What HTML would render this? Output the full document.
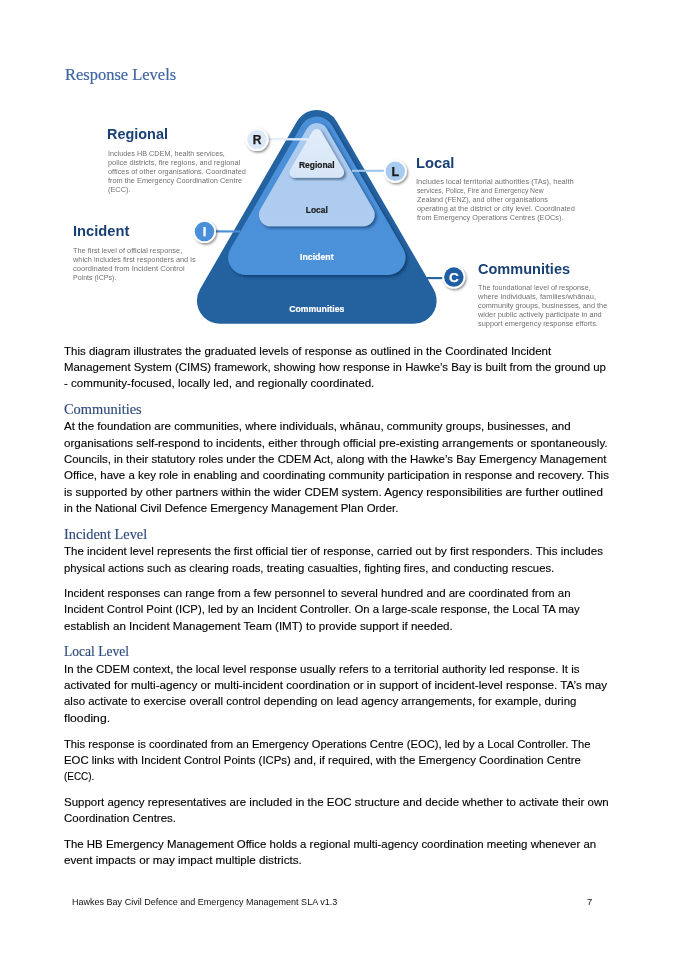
<!DOCTYPE html>
<html lang="en"><head><meta charset="utf-8"><title>Response Levels</title>
<style>
html,body{margin:0;padding:0;background:#fff;}
body{width:675px;height:955px;position:relative;overflow:hidden;}
.l{position:absolute;white-space:pre;line-height:1;transform-origin:0 0;margin:0;}
.t{font-family:"Liberation Serif", serif;font-size:15.8px;color:#4066a4;font-weight:400;-webkit-text-stroke:0.2px #4066a4;}
.h{font-family:"Liberation Serif", serif;font-size:13.6px;color:#2f4b7c;font-weight:400;-webkit-text-stroke:0.15px #2f4b7c;}
.b{font-family:"Liberation Sans", sans-serif;font-size:10.8px;color:#000;font-weight:400;-webkit-text-stroke:0.12px #000;}
.f{font-family:"Liberation Sans", sans-serif;font-size:9.0px;color:#111;font-weight:400;}
.dh{font-family:"Liberation Sans", sans-serif;font-size:14.0px;color:#194075;font-weight:700;}
.dd{font-family:"Liberation Sans", sans-serif;font-size:7.4px;color:#707070;font-weight:400;}
</style></head>
<body>
<svg width="675" height="955" viewBox="0 0 675 955" style="position:absolute;left:0;top:0;will-change:transform">
<defs>
<linearGradient id="g0" gradientUnits="userSpaceOnUse" x1="0" y1="110" x2="0" y2="324"><stop offset="0" stop-color="#2463a2"/><stop offset="1" stop-color="#23619f"/></linearGradient>
<linearGradient id="g1" gradientUnits="userSpaceOnUse" x1="0" y1="116" x2="0" y2="275"><stop offset="0" stop-color="#4a8fd8"/><stop offset="1" stop-color="#4c92da"/></linearGradient>
<linearGradient id="g2" gradientUnits="userSpaceOnUse" x1="0" y1="123" x2="0" y2="226"><stop offset="0" stop-color="#a9c9ee"/><stop offset="1" stop-color="#afcdef"/></linearGradient>
<linearGradient id="g3" gradientUnits="userSpaceOnUse" x1="0" y1="129" x2="0" y2="178"><stop offset="0" stop-color="#e2edf9"/><stop offset="1" stop-color="#d6e5f7"/></linearGradient>
<filter id="sh" x="-20%" y="-20%" width="140%" height="140%"><feDropShadow dx="1.9" dy="1.9" stdDeviation="1.8" flood-color="#06224a" flood-opacity="0.55"/></filter>
<filter id="bs" x="-40%" y="-40%" width="180%" height="180%"><feDropShadow dx="1.2" dy="1.5" stdDeviation="1.0" flood-color="#000" flood-opacity="0.45"/></filter>
</defs>
<path d="M316.80 133.00 L413.68 300.80 L219.92 300.80 Z" fill="url(#g0)" stroke="url(#g0)" stroke-width="46.00" stroke-linejoin="round"/>
<path d="M316.80 134.10 L387.99 257.40 L245.61 257.40 Z" fill="url(#g1)" stroke="url(#g1)" stroke-width="35.00" stroke-linejoin="round" filter="url(#sh)"/>
<path d="M316.80 134.50 L363.16 214.80 L270.44 214.80 Z" fill="url(#g2)" stroke="url(#g2)" stroke-width="23.00" stroke-linejoin="round" filter="url(#sh)"/>
<path d="M316.80 134.30 L338.80 172.40 L294.80 172.40 Z" fill="url(#g3)" stroke="url(#g3)" stroke-width="10.60" stroke-linejoin="round" filter="url(#sh)"/>
<line x1="268" y1="139.2" x2="308" y2="139.3" stroke="#e3eefa" stroke-width="2.3"/>
<line x1="215" y1="231.4" x2="240" y2="231.5" stroke="#4a8fd8" stroke-width="2.1"/>
<line x1="352" y1="170.8" x2="384" y2="170.8" stroke="#9fc6ee" stroke-width="2.1"/>
<line x1="426" y1="278.1" x2="442.5" y2="278.1" stroke="#22609e" stroke-width="2.1"/>
<circle cx="257.0" cy="139.6" r="11.5" fill="#fff" filter="url(#bs)"/>
<circle cx="257.0" cy="139.6" r="9.75" fill="#dbe8f8"/>
<text x="257.0" y="143.9" text-anchor="middle" font-family="Liberation Sans, sans-serif" font-weight="700" font-size="12" fill="#1a1a1a" stroke="#1a1a1a" stroke-width="0.25">R</text>
<circle cx="204.5" cy="231.6" r="11.5" fill="#fff" filter="url(#bs)"/>
<circle cx="204.5" cy="231.6" r="9.75" fill="#4a90d9"/>
<text x="204.5" y="236.2" text-anchor="middle" font-family="Liberation Sans, sans-serif" font-weight="700" font-size="13" fill="#ffffff" stroke="#ffffff" stroke-width="0.25">I</text>
<circle cx="395.3" cy="171.3" r="11.5" fill="#fff" filter="url(#bs)"/>
<circle cx="395.3" cy="171.3" r="9.75" fill="#a9cbf0"/>
<text x="395.3" y="175.8" text-anchor="middle" font-family="Liberation Sans, sans-serif" font-weight="700" font-size="12.6" fill="#1a1a1a" stroke="#1a1a1a" stroke-width="0.25">L</text>
<circle cx="453.8" cy="277.1" r="11.5" fill="#fff" filter="url(#bs)"/>
<circle cx="453.8" cy="277.1" r="9.75" fill="#1f5ea5"/>
<text x="453.8" y="282.0" text-anchor="middle" font-family="Liberation Sans, sans-serif" font-weight="700" font-size="13.6" fill="#ffffff" stroke="#ffffff" stroke-width="0.25">C</text>
<text x="316.8" y="168.0" text-anchor="middle" textLength="35.6" lengthAdjust="spacingAndGlyphs" font-family="Liberation Sans, sans-serif" font-weight="700" font-size="8.4" fill="#1a1a1a" stroke="#1a1a1a" stroke-width="0.2">Regional</text>
<text x="316.8" y="213.2" text-anchor="middle" textLength="21.9" lengthAdjust="spacingAndGlyphs" font-family="Liberation Sans, sans-serif" font-weight="700" font-size="8.4" fill="#1a1a1a" stroke="#1a1a1a" stroke-width="0.2">Local</text>
<text x="316.8" y="260.4" text-anchor="middle" textLength="33.5" lengthAdjust="spacingAndGlyphs" font-family="Liberation Sans, sans-serif" font-weight="700" font-size="8.4" fill="#ffffff" stroke="#ffffff" stroke-width="0.2">Incident</text>
<text x="316.8" y="311.6" text-anchor="middle" textLength="55.2" lengthAdjust="spacingAndGlyphs" font-family="Liberation Sans, sans-serif" font-weight="700" font-size="8.4" fill="#ffffff" stroke="#ffffff" stroke-width="0.2">Communities</text>
</svg>
<div class="l t" style="left:64.68px;top:66.70px;transform:scaleX(1.0423);">Response Levels</div>
<div class="l b" style="left:63.80px;top:345.50px;transform:scaleX(1.0638);">This diagram illustrates the graduated levels of response as outlined in the Coordinated Incident</div>
<div class="l b" style="left:63.80px;top:361.80px;transform:scaleX(1.0567);">Management System (CIMS) framework, showing how response in Hawke’s Bay is built from the ground up</div>
<div class="l b" style="left:63.80px;top:378.10px;transform:scaleX(1.0727);">- community-focused, locally led, and regionally coordinated.</div>
<div class="l b" style="left:63.80px;top:421.40px;transform:scaleX(1.0672);">At the foundation are communities, where individuals, whānau, community groups, businesses, and</div>
<div class="l b" style="left:63.80px;top:437.80px;transform:scaleX(1.0739);">organisations self-respond to incidents, either through official pre-existing arrangements or spontaneously.</div>
<div class="l b" style="left:63.80px;top:454.10px;transform:scaleX(1.0563);">Councils, in their statutory roles under the CDEM Act, along with the Hawke’s Bay Emergency Management</div>
<div class="l b" style="left:63.80px;top:470.40px;transform:scaleX(1.0657);">Office, have a key role in enabling and coordinating community participation in response and recovery. This</div>
<div class="l b" style="left:63.80px;top:486.80px;transform:scaleX(1.0741);">is supported by other partners within the wider CDEM system. Agency responsibilities are further outlined</div>
<div class="l b" style="left:63.80px;top:503.10px;transform:scaleX(1.0552);">in the National Civil Defence Emergency Management Plan Order.</div>
<div class="l b" style="left:63.80px;top:546.40px;transform:scaleX(1.0674);">The incident level represents the first official tier of response, carried out by first responders. This includes</div>
<div class="l b" style="left:63.80px;top:562.80px;transform:scaleX(1.0486);">physical actions such as clearing roads, treating casualties, fighting fires, and conducting rescues.</div>
<div class="l b" style="left:63.80px;top:588.10px;transform:scaleX(1.0630);">Incident responses can range from a few personnel to several hundred and are coordinated from an</div>
<div class="l b" style="left:63.80px;top:604.40px;transform:scaleX(1.0476);">Incident Control Point (ICP), led by an Incident Controller. On a large-scale response, the Local TA may</div>
<div class="l b" style="left:63.80px;top:620.80px;transform:scaleX(1.0731);">establish an Incident Management Team (IMT) to provide support if needed.</div>
<div class="l b" style="left:63.80px;top:663.80px;transform:scaleX(1.0659);">In the CDEM context, the local level response usually refers to a territorial authority led response. It is</div>
<div class="l b" style="left:63.80px;top:680.10px;transform:scaleX(1.0830);">activated for multi-agency or multi-incident coordination or in support of incident-level response. TA’s may</div>
<div class="l b" style="left:63.80px;top:696.40px;transform:scaleX(1.0605);">also activate to exercise overall control depending on lead agency arrangements, for example, during</div>
<div class="l b" style="left:63.80px;top:712.80px;transform:scaleX(1.1282);">flooding.</div>
<div class="l b" style="left:63.80px;top:738.80px;transform:scaleX(1.0401);">This response is coordinated from an Emergency Operations Centre (EOC), led by a Local Controller. The</div>
<div class="l b" style="left:63.80px;top:755.10px;transform:scaleX(1.0529);">EOC links with Incident Control Points (ICPs) and, if required, with the Emergency Coordination Centre</div>
<div class="l b" style="left:63.80px;top:771.40px;transform:scaleX(0.9157);">(ECC).</div>
<div class="l b" style="left:63.80px;top:797.10px;transform:scaleX(1.0650);">Support agency representatives are included in the EOC structure and decide whether to activate their own</div>
<div class="l b" style="left:63.80px;top:813.40px;transform:scaleX(1.0668);">Coordination Centres.</div>
<div class="l b" style="left:63.80px;top:839.10px;transform:scaleX(1.0584);">The HB Emergency Management Office holds a regional multi-agency coordination meeting whenever an</div>
<div class="l b" style="left:63.80px;top:855.40px;transform:scaleX(1.0798);">event impacts or may impact multiple districts.</div>
<div class="l h" style="left:64.17px;top:402.80px;transform:scaleX(1.0603);">Communities</div>
<div class="l h" style="left:64.07px;top:527.80px;transform:scaleX(1.0548);">Incident Level</div>
<div class="l h" style="left:64.12px;top:644.80px;transform:scaleX(0.9957);">Local Level</div>
<div class="l f" style="left:71.66px;top:897.60px;transform:scaleX(1.0022);">Hawkes Bay Civil Defence and Emergency Management SLA v1.3</div>
<div class="l f" style="left:586.80px;top:897.60px;transform:scaleX(1.0525);">7</div>
<div class="l dh" style="left:106.68px;top:126.80px;transform:scaleX(1.0305);">Regional</div>
<div class="l dh" style="left:73.42px;top:223.90px;transform:scaleX(1.0484);">Incident</div>
<div class="l dh" style="left:416.46px;top:155.70px;transform:scaleX(1.0509);">Local</div>
<div class="l dh" style="left:477.53px;top:262.00px;transform:scaleX(1.0381);">Communities</div>
<div class="l dd" style="left:107.57px;top:150.05px;transform:scaleX(0.9808);">Includes HB CDEM, health services,</div>
<div class="l dd" style="left:107.66px;top:159.05px;transform:scaleX(1.0027);">police districts, fire regions, and regional</div>
<div class="l dd" style="left:107.72px;top:168.05px;transform:scaleX(0.9939);">offices of other organisations. Coordinated</div>
<div class="l dd" style="left:107.79px;top:177.05px;transform:scaleX(0.9944);">from the Emergency Coordination Centre</div>
<div class="l dd" style="left:107.66px;top:186.05px;transform:scaleX(0.9955);">(ECC).</div>
<div class="l dd" style="left:73.10px;top:247.05px;transform:scaleX(0.9968);">The first level of official response,</div>
<div class="l dd" style="left:73.22px;top:256.05px;transform:scaleX(0.9979);">which includes first responders and is</div>
<div class="l dd" style="left:73.19px;top:265.05px;transform:scaleX(1.0211);">coordinated from Incident Control</div>
<div class="l dd" style="left:73.11px;top:274.05px;transform:scaleX(0.9515);">Points (ICPs).</div>
<div class="l dd" style="left:415.95px;top:178.05px;transform:scaleX(1.0137);">Includes local territorial authorities (TAs), health</div>
<div class="l dd" style="left:416.88px;top:187.05px;transform:scaleX(0.9119);">services, Police, Fire and Emergency New</div>
<div class="l dd" style="left:417.02px;top:196.05px;transform:scaleX(0.9740);">Zealand (FENZ), and other organisations</div>
<div class="l dd" style="left:416.93px;top:205.05px;transform:scaleX(0.9979);">operating at the district or city level. Coordinated</div>
<div class="l dd" style="left:417.00px;top:213.65px;transform:scaleX(0.9819);">from Emergency Operations Centres (EOCs).</div>
<div class="l dd" style="left:477.64px;top:284.05px;transform:scaleX(0.9802);">The foundational level of response,</div>
<div class="l dd" style="left:477.76px;top:293.05px;transform:scaleX(1.0186);">where individuals, families/whānau,</div>
<div class="l dd" style="left:477.72px;top:302.05px;transform:scaleX(0.9926);">community groups, businesses, and the</div>
<div class="l dd" style="left:477.69px;top:311.05px;transform:scaleX(0.9970);">wider public actively participate in and</div>
<div class="l dd" style="left:477.66px;top:320.05px;transform:scaleX(0.9972);">support emergency response efforts.</div>
</body></html>
